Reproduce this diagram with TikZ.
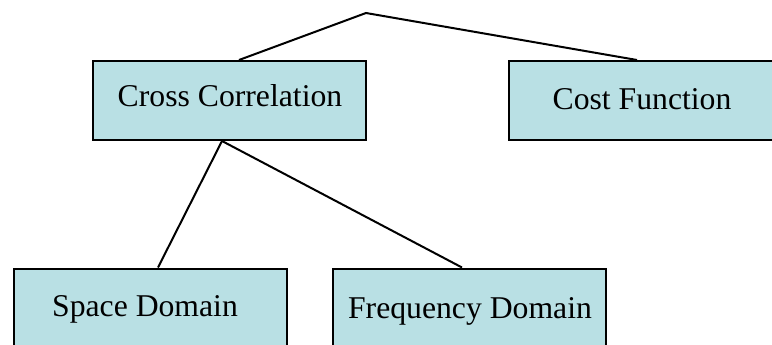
\documentclass[tikz,border=0pt]{standalone}
\usepackage{fontspec}
\setmainfont{Liberation Serif}
\definecolor{boxfill}{RGB}{185,224,228}
\begin{document}
\begin{tikzpicture}[x=1pt,y=-1pt,
  box/.style={draw=black, line width=2pt, fill=boxfill, rectangle, inner sep=0pt},
  lbl/.style={anchor=base, inner sep=0pt, font=\fontsize{31.7}{38}\selectfont},
  link/.style={draw=black, line width=2pt}]
\useasboundingbox (0,0) rectangle (772,345);
\clip (0,0) rectangle (772,345);
\fill[white] (0,0) rectangle (772,345);
% boxes
\node[box, minimum width=273pt, minimum height=79pt] (cc) at (229.5,100.5) {};
\node[box, minimum width=266pt, minimum height=79pt] (cf) at (642,100.5) {};
\node[box, minimum width=273pt, minimum height=79pt] (sd) at (150.5,308) {};
\node[box, minimum width=273pt, minimum height=79pt] (fd) at (469.5,308) {};
% labels
\node[lbl] (cct) at (230,106.7) {Cross Correlation};
\node[lbl] (cft) at (642,109.3) {Cost Function};
\node[lbl] (sdt) at (145,316.7) {Space Domain};
\node[lbl] (fdt) at (470,318) {Frequency Domain};
% connectors
\coordinate (apex) at (366,13);
\draw[link, line join=miter] ([xshift=9.5pt]cc.north) -- (apex) -- ([xshift=-5pt]cf.north);
\draw[link] ([xshift=-7.5pt]cc.south) -- ([xshift=7.5pt]sd.north);
\draw[link] ([xshift=-7.5pt]cc.south) -- ([xshift=-7.5pt]fd.north);
\end{tikzpicture}
\end{document}
